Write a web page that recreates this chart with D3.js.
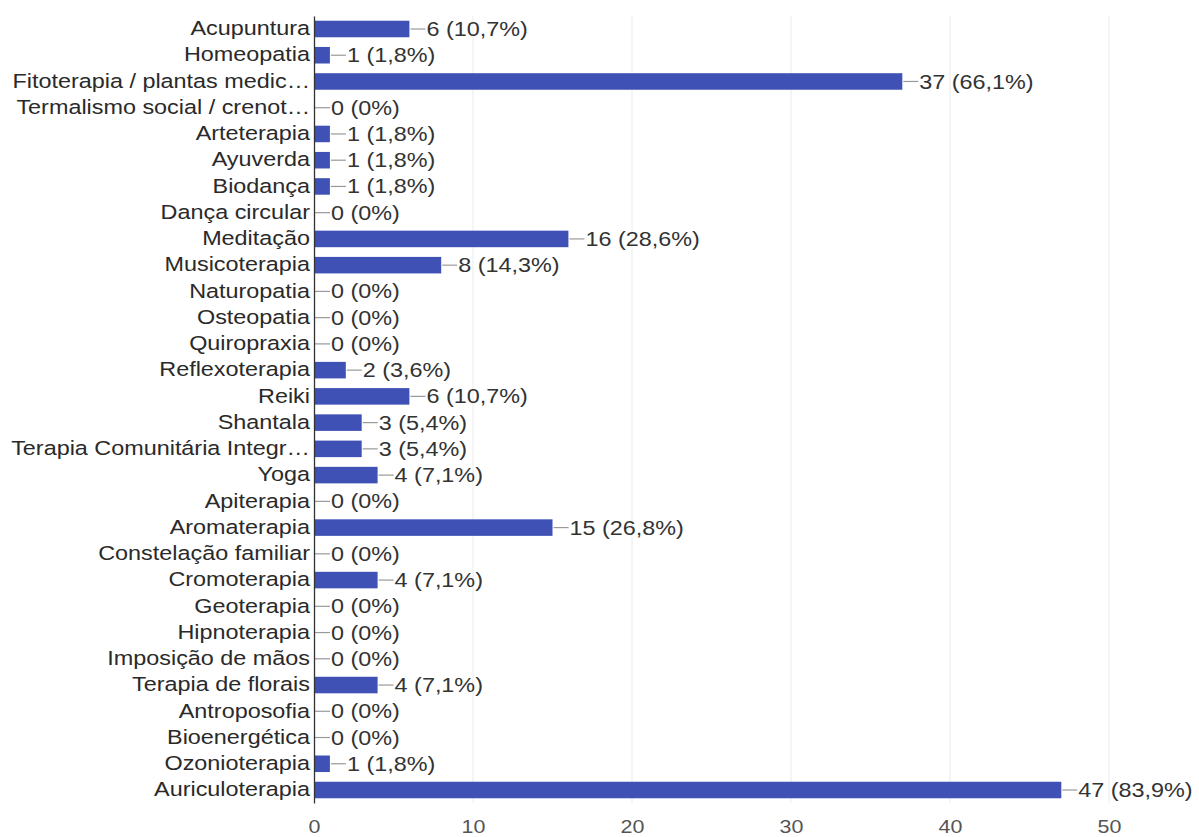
<!DOCTYPE html>
<html>
<head>
<meta charset="utf-8">
<script src="https://cdn.jsdelivr.net/npm/d3@7"></script>
<style>
body { margin: 0; background: #fff; }
text { font-family: "Liberation Sans", Arial, sans-serif; }
</style>
</head>
<body>
<div class="chart"></div>
<script>
const categories = ["Acupuntura", "Homeopatia", "Fitoterapia / plantas medic…", "Termalismo social / crenot…",
  "Arteterapia", "Ayuverda", "Biodança", "Dança circular", "Meditação", "Musicoterapia", "Naturopatia",
  "Osteopatia", "Quiropraxia", "Reflexoterapia", "Reiki", "Shantala", "Terapia Comunitária Integr…", "Yoga",
  "Apiterapia", "Aromaterapia", "Constelação familiar", "Cromoterapia", "Geoterapia", "Hipnoterapia",
  "Imposição de mãos", "Terapia de florais", "Antroposofia", "Bioenergética", "Ozonioterapia", "Auriculoterapia"];
const counts = [6, 1, 37, 0, 1, 1, 1, 0, 16, 8, 0, 0, 0, 2, 6, 3, 3, 4, 0, 15, 0, 4, 0, 0, 0, 4, 0, 0, 1, 47];
const percents = ["10,7%", "1,8%", "66,1%", "0%", "1,8%", "1,8%", "1,8%", "0%", "28,6%", "14,3%", "0%",
  "0%", "0%", "3,6%", "10,7%", "5,4%", "5,4%", "7,1%", "0%", "26,8%", "0%", "7,1%", "0%", "0%",
  "0%", "7,1%", "0%", "0%", "1,8%", "83,9%"];
const xTicks = [0, 10, 20, 30, 40, 50];

const data = categories.map((c, i) => ({ name: c, count: counts[i], pct: percents[i] }));

const width = 1199, height = 837;
const margin = { top: 16, right: 90, bottom: 34, left: 314 };
const stretch = 1.2; // text in the picture is wider than plain Arial

const svg = d3.select(".chart").append("svg")
  .attr("width", width)
  .attr("height", height);

const xScale = d3.scaleLinear()
  .domain([0, 50])
  .range([margin.left, margin.left + 795]);

const yScale = d3.scaleBand()
  .domain(categories)
  .range([margin.top, height - margin.bottom])
  .paddingInner(0.37)
  .paddingOuter(0.18);

// gridlines
svg.append("g")
  .selectAll("line")
  .data(xTicks.slice(1))
  .enter()
  .append("line")
  .attr("x1", d => xScale(d))
  .attr("x2", d => xScale(d))
  .attr("y1", margin.top)
  .attr("y2", height - margin.bottom)
  .attr("stroke", "#ebebeb")
  .attr("stroke-width", 1);

// bars
svg.append("g")
  .selectAll("rect")
  .data(data)
  .enter()
  .append("rect")
  .attr("x", xScale(0))
  .attr("y", d => yScale(d.name))
  .attr("width", d => xScale(d.count) - xScale(0))
  .attr("height", yScale.bandwidth())
  .attr("fill", "#3f51b5");

// connector lines + value labels
const ann = svg.append("g");
ann.selectAll("line")
  .data(data)
  .enter()
  .append("line")
  .attr("x1", d => xScale(d.count) + 1)
  .attr("x2", d => xScale(d.count) + 16)
  .attr("y1", d => yScale(d.name) + yScale.bandwidth() / 2)
  .attr("y2", d => yScale(d.name) + yScale.bandwidth() / 2)
  .attr("stroke", "#999")
  .attr("stroke-width", 1.2);

ann.selectAll("text")
  .data(data)
  .enter()
  .append("text")
  .attr("transform", d => `translate(${xScale(d.count) + 17},${yScale(d.name) + yScale.bandwidth() / 2}) scale(${stretch},1)`)
  .attr("dy", "0.36em")
  .attr("font-size", 19.5)
  .attr("fill", "#333")
  .text(d => d.count + " (" + d.pct + ")");

// category axis
const yAxis = d3.axisLeft(yScale).tickSize(0).tickPadding(4);
const yg = svg.append("g")
  .attr("transform", `translate(${margin.left},0)`)
  .call(yAxis);
yg.select(".domain").attr("stroke", "#333").attr("stroke-width", 1.3);
yg.selectAll("text")
  .attr("x", -4 / stretch)
  .attr("transform", `scale(${stretch},1)`)
  .attr("font-size", 19.5)
  .attr("font-family", "Liberation Sans, Arial, sans-serif")
  .attr("fill", "#2a2a2a");

// value axis
const xAxis = d3.axisBottom(xScale).tickValues(xTicks).tickSize(0).tickPadding(0);
const xg = svg.append("g")
  .attr("transform", `translate(0,${height - margin.bottom})`)
  .call(xAxis);
xg.select(".domain").remove();
xg.selectAll("text")
  .attr("y", 0)
  .attr("dy", 0)
  .attr("transform", "translate(0,29.5) scale(1.13,1)")
  .attr("font-size", 19)
  .attr("font-family", "Liberation Sans, Arial, sans-serif")
  .attr("fill", "#555");
</script>
</body>
</html>
